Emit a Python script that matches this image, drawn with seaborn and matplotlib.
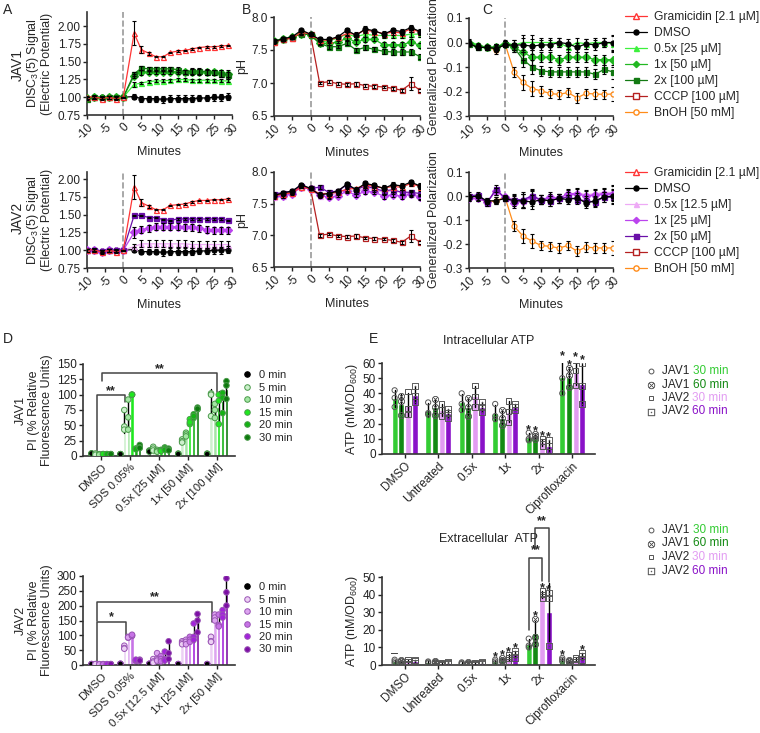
import numpy as np
import pandas as pd
import matplotlib
matplotlib.use('Agg')
import matplotlib.pyplot as plt
from matplotlib.lines import Line2D
import seaborn as sns

sns.set_style('ticks')
plt.rcParams['font.family'] = ['Liberation Sans', 'DejaVu Sans']
plt.rcParams['mathtext.fontset'] = 'custom'
plt.rcParams['mathtext.rm'] = 'Liberation Sans'
plt.rcParams['mathtext.it'] = 'Liberation Sans'
plt.rcParams['font.size'] = 8.5
plt.rcParams['axes.linewidth'] = 1.2
plt.rcParams['axes.edgecolor'] = '#333333'

# ---------------- time course data ----------------
tA = [-10, -8, -6, -4, -2, 0, 3, 5, 7, 9, 11, 13, 15, 17, 19, 21, 23, 25, 27, 29]
tB = [-10, -7.5, -5, -2.5, 0, 2.5, 5, 7.5, 10, 12.5, 15, 17.5, 20, 22.5, 25, 27.5, 30]

# DiSC3(5), JAV1
gram_A1 = [1.00, 1.01, 0.98, 1.00, 0.98, 1.00, 1.90, 1.67, 1.62, 1.57, 1.57, 1.63, 1.65, 1.66, 1.68, 1.70, 1.71, 1.71, 1.72, 1.73]
gram_A1_err = [0.02, 0.02, 0.02, 0.02, 0.02, 0.01, 0.17, 0.05, 0.02, 0.01, 0.01, 0.01, 0.01, 0.01, 0.01, 0.01, 0.01, 0.01, 0.01, 0.01]
dmso_A1 = [0.99, 1.00, 1.00, 1.00, 1.00, 1.00, 1.01, 0.98, 0.98, 0.98, 0.97, 0.98, 0.98, 0.98, 0.98, 0.99, 0.99, 1.00, 1.00, 1.01]
dmso_A1_err = [0.02, 0.02, 0.02, 0.02, 0.02, 0.01, 0.03, 0.04, 0.04, 0.04, 0.05, 0.05, 0.05, 0.05, 0.05, 0.04, 0.04, 0.05, 0.05, 0.05]
lo_A1 = [0.99, 1.00, 1.00, 1.00, 1.00, 1.00, 1.18, 1.20, 1.22, 1.23, 1.23, 1.24, 1.25, 1.25, 1.24, 1.24, 1.24, 1.24, 1.23, 1.23]
lo_A1_err = [0.02, 0.02, 0.02, 0.02, 0.02, 0.01, 0.03, 0.02, 0.02, 0.02, 0.02, 0.02, 0.02, 0.02, 0.02, 0.02, 0.02, 0.02, 0.02, 0.02]
mid_A1 = [0.99, 1.00, 0.99, 1.00, 1.00, 1.00, 1.30, 1.35, 1.36, 1.36, 1.36, 1.36, 1.36, 1.36, 1.36, 1.36, 1.35, 1.35, 1.34, 1.33]
mid_A1_err = [0.02, 0.02, 0.02, 0.02, 0.02, 0.01, 0.03, 0.03, 0.03, 0.03, 0.03, 0.03, 0.03, 0.03, 0.04, 0.04, 0.04, 0.04, 0.05, 0.05]
hi_A1 = [0.98, 1.00, 0.99, 1.00, 1.00, 1.00, 1.33, 1.41, 1.40, 1.40, 1.40, 1.40, 1.39, 1.36, 1.37, 1.37, 1.36, 1.35, 1.33, 1.31]
hi_A1_err = [0.02, 0.02, 0.02, 0.02, 0.02, 0.01, 0.03, 0.03, 0.03, 0.03, 0.03, 0.03, 0.03, 0.03, 0.04, 0.04, 0.04, 0.04, 0.05, 0.05]

# DiSC3(5), JAV2
gram_A2 = [1.00, 1.01, 0.97, 1.00, 0.98, 1.00, 1.89, 1.67, 1.62, 1.57, 1.57, 1.63, 1.64, 1.65, 1.68, 1.70, 1.70, 1.71, 1.71, 1.72]
dmso_A2 = [1.00, 1.00, 0.99, 1.00, 1.00, 1.00, 1.01, 0.98, 0.98, 0.98, 0.97, 0.98, 0.98, 0.98, 0.98, 0.99, 0.99, 1.00, 1.00, 1.01]
lo_A2 = [1.00, 1.00, 0.98, 1.00, 0.99, 1.00, 1.05, 1.09, 1.09, 1.09, 1.09, 1.09, 1.09, 1.09, 1.08, 1.08, 1.08, 1.08, 1.08, 1.08]
lo_A2_err = [0.02, 0.02, 0.02, 0.02, 0.02, 0.01, 0.04, 0.05, 0.05, 0.05, 0.05, 0.05, 0.05, 0.05, 0.05, 0.05, 0.05, 0.05, 0.05, 0.05]
mid_A2 = [1.00, 1.01, 0.98, 1.00, 0.99, 1.00, 1.25, 1.29, 1.31, 1.33, 1.33, 1.33, 1.33, 1.32, 1.32, 1.31, 1.29, 1.28, 1.28, 1.28]
mid_A2_err = [0.02, 0.02, 0.02, 0.02, 0.02, 0.01, 0.08, 0.05, 0.05, 0.05, 0.05, 0.05, 0.05, 0.05, 0.05, 0.05, 0.05, 0.05, 0.05, 0.05]
hi_A2 = [1.00, 1.01, 0.99, 1.00, 1.00, 1.00, 1.49, 1.49, 1.46, 1.46, 1.43, 1.42, 1.44, 1.44, 1.44, 1.44, 1.44, 1.44, 1.44, 1.42]
hi_A2_err = [0.02, 0.02, 0.02, 0.02, 0.02, 0.01, 0.01, 0.01, 0.01, 0.01, 0.01, 0.01, 0.01, 0.01, 0.01, 0.01, 0.01, 0.01, 0.01, 0.01]

# pH, JAV1
dmso_B1 = [7.63, 7.67, 7.70, 7.80, 7.74, 7.66, 7.66, 7.70, 7.80, 7.72, 7.82, 7.79, 7.74, 7.80, 7.78, 7.84, 7.78]
gram_B1 = [7.62, 7.66, 7.68, 7.77, 7.74, 7.65, 7.65, 7.69, 7.75, 7.74, 7.80, 7.78, 7.75, 7.77, 7.76, 7.82, 7.77]
cccp_B1 = [7.62, 7.66, 7.68, 7.76, 7.74, 7.00, 7.02, 6.99, 6.98, 6.99, 6.96, 6.95, 6.94, 6.92, 6.89, 6.99, 6.89]
cccp_B_err = [0.02, 0.02, 0.02, 0.02, 0.02, 0.02, 0.02, 0.02, 0.02, 0.03, 0.02, 0.02, 0.02, 0.02, 0.02, 0.10, 0.02]
lo_B1 = [7.64, 7.66, 7.69, 7.76, 7.74, 7.62, 7.64, 7.68, 7.74, 7.70, 7.74, 7.72, 7.72, 7.72, 7.72, 7.74, 7.74]
mid_B1 = [7.63, 7.67, 7.69, 7.75, 7.73, 7.60, 7.60, 7.62, 7.68, 7.62, 7.66, 7.66, 7.58, 7.58, 7.58, 7.62, 7.57]
hi_B1 = [7.63, 7.66, 7.69, 7.75, 7.73, 7.60, 7.55, 7.55, 7.60, 7.50, 7.54, 7.51, 7.48, 7.47, 7.47, 7.47, 7.40]
ph_err = [0.03, 0.03, 0.02, 0.02, 0.02, 0.03, 0.03, 0.02, 0.03, 0.03, 0.04, 0.03, 0.04, 0.04, 0.04, 0.04, 0.04]

# pH, JAV2
dmso_B2 = [7.63, 7.67, 7.70, 7.80, 7.74, 7.64, 7.66, 7.70, 7.81, 7.72, 7.82, 7.79, 7.74, 7.80, 7.78, 7.84, 7.78]
gram_B2 = [7.62, 7.65, 7.67, 7.77, 7.73, 7.66, 7.66, 7.68, 7.73, 7.74, 7.80, 7.77, 7.75, 7.77, 7.76, 7.82, 7.77]
cccp_B2 = [7.62, 7.66, 7.68, 7.76, 7.74, 7.00, 7.02, 6.99, 6.98, 6.99, 6.96, 6.95, 6.94, 6.92, 6.89, 6.99, 6.89]
lo_B2 = [7.60, 7.62, 7.67, 7.76, 7.73, 7.62, 7.62, 7.67, 7.72, 7.68, 7.75, 7.72, 7.68, 7.70, 7.68, 7.66, 7.62]
mid_B2 = [7.62, 7.62, 7.66, 7.76, 7.73, 7.63, 7.60, 7.62, 7.70, 7.63, 7.70, 7.68, 7.62, 7.64, 7.62, 7.65, 7.60]
hi_B2 = [7.66, 7.67, 7.70, 7.78, 7.74, 7.76, 7.68, 7.70, 7.80, 7.72, 7.78, 7.74, 7.70, 7.72, 7.68, 7.68, 7.66]

# Generalized polarization, JAV1
dmso_C1 = [-0.005, -0.02, -0.02, -0.025, -0.01, -0.01, -0.01, -0.015, -0.01, -0.01, 0.0, -0.005, -0.02, -0.005, -0.01, 0.0, 0.0]
lo_C1 = [0.005, -0.01, -0.02, -0.02, 0.0, -0.01, 0.0, 0.0, 0.0, 0.0, 0.0, -0.02, 0.0, -0.005, 0.0, 0.0, -0.005]
mid_C1 = [0.0, -0.015, -0.02, -0.02, -0.005, -0.02, -0.04, -0.06, -0.06, -0.06, -0.07, -0.06, -0.06, -0.06, -0.07, -0.07, -0.07]
hi_C1 = [-0.005, -0.02, -0.02, -0.02, -0.005, -0.02, -0.07, -0.10, -0.115, -0.12, -0.12, -0.12, -0.12, -0.12, -0.13, -0.11, -0.12]
bnoh_C1 = [-0.005, -0.015, -0.02, -0.03, -0.005, -0.12, -0.163, -0.188, -0.197, -0.208, -0.212, -0.204, -0.226, -0.208, -0.21, -0.212, -0.21]
gp_err = [0.01, 0.01, 0.01, 0.015, 0.01, 0.02, 0.03, 0.03, 0.02, 0.02, 0.02, 0.02, 0.02, 0.02, 0.02, 0.02, 0.03]

# Generalized polarization, JAV2
dmso_C2 = [-0.005, 0.0, -0.02, -0.02, -0.01, -0.02, -0.02, -0.025, -0.015, -0.02, -0.01, -0.015, -0.007, -0.03, -0.02, -0.004, -0.001]
lo_C2 = [0.005, -0.005, -0.02, 0.02, -0.01, -0.01, -0.02, -0.01, -0.015, -0.01, -0.01, 0.005, 0.015, 0.005, 0.01, 0.015, 0.015]
mid_C2 = [-0.01, -0.01, -0.025, 0.02, -0.005, -0.03, -0.02, -0.005, -0.015, -0.005, -0.01, 0.01, 0.01, 0.0, 0.005, 0.01, 0.01]
hi_C2 = [0.0, 0.005, -0.03, 0.03, -0.01, -0.015, -0.015, 0.0, -0.015, -0.02, -0.01, -0.005, -0.015, -0.02, -0.025, -0.005, -0.005]
bnoh_C2 = [-0.01, -0.01, -0.025, -0.02, -0.005, -0.125, -0.167, -0.188, -0.206, -0.21, -0.217, -0.206, -0.23, -0.213, -0.216, -0.217, -0.216]

labels1 = ['Gramicidin [2.1 µM]', 'DMSO', '0.5x [25 µM]', '1x [50 µM]', '2x [100 µM]', 'CCCP [100 µM]', 'BnOH [50 mM]']
labels2 = ['Gramicidin [2.1 µM]', 'DMSO', '0.5x [12.5 µM]', '1x [25 µM]', '2x [50 µM]', 'CCCP [100 µM]', 'BnOH [50 mM]']
green3 = ['#3df03d', '#22b822', '#137a13']
purple3 = ['#eeaaf6', '#bb44ee', '#6a10a8']

# ---------------- PI uptake data (replicates) ----------------
pi_times = ['0 min', '5 min', '10 min', '15 min', '20 min', '30 min']
pi_conds1 = ['DMSO', 'SDS 0.05%', '0.5x [25 µM]', '1x [50 µM]', '2x [100 µM]']
pi_conds2 = ['DMSO', 'SDS 0.05%', '0.5x [12.5 µM]', '1x [25 µM]', '2x [50 µM]']
pi_jav1 = {
    '0 min': [[4, 4, 4], [3, 3, 3], [9, 8, 7], [3, 4, 3], [4, 3, 3]],
    '5 min': [[3, 4, 2], [75, 48, 43], [15, 12, 9], [27, 24, 22], [102, 100, 65]],
    '10 min': [[2, 3, 2], [92, 63, 43], [10, 8, 7], [38, 35, 32], [85, 75, 62]],
    '15 min': [[3, 3, 3], [100, 100, 100], [10, 9, 8], [60, 52, 55], [100, 90, 52]],
    '20 min': [[3, 3, 3], [12, 12, 11], [14, 12, 10], [68, 62, 65], [103, 95, 70]],
    '30 min': [[3, 3, 3], [18, 14, 13], [12, 10, 9], [79, 76, 77], [122, 115, 93]],
}
pi_jav2 = {
    '0 min': [[3, 3, 3], [4, 4, 4], [4, 4, 4], [3, 3, 3], [3, 3, 3]],
    '5 min': [[3, 2, 3], [65, 57, 55], [20, 12, 8], [80, 75, 70], [95, 80, 78]],
    '10 min': [[2, 3, 2], [92, 95, 93], [40, 20, 15], [85, 78, 70], [170, 160, 150]],
    '15 min': [[3, 2, 2], [100, 98, 102], [30, 20, 12], [95, 85, 78], [170, 135, 130]],
    '20 min': [[3, 2, 2], [15, 14, 18], [45, 20, 15], [140, 95, 85], [185, 170, 160]],
    '30 min': [[3, 2, 3], [18, 14, 15], [80, 40, 20], [172, 150, 110], [292, 245, 200]],
}
pi_green = ['#000000', '#cdf0cd', '#a3e6a3', '#1ee81e', '#13b313', '#0e7a0e']
pi_purple = ['#000000', '#ecd0f4', '#dda4f0', '#c773e6', '#a322dc', '#7d0fa5']

# ---------------- ATP data (replicates) ----------------
atp_groups = ['DMSO', 'Untreated', '0.5x', '1x', '2x', 'Ciprofloxacin']
atp_series = ['JAV1 30 min', 'JAV1 60 min', 'JAV2 30 min', 'JAV2 60 min']
atp_colors = ['#33cc33', '#138a13', '#e29cf2', '#8a12c8']
atp_markers = ['o', '$\\otimes$', 's', '$\\boxdot$']
atp_in = {
    'JAV1 30 min': [[42, 37, 31], [34, 27, 26], [40, 33, 29], [33, 25, 23], [14, 10, 9], [63, 50, 40]],
    'JAV1 60 min': [[38, 35, 26], [36, 31, 26], [37, 31, 25], [29, 24, 19], [13, 12, 10], [57, 52, 44]],
    'JAV2 30 min': [[41, 30, 26], [33, 29, 25], [45, 38, 31], [35, 28, 21], [10, 8, 5], [62, 55, 45]],
    'JAV2 60 min': [[45, 38, 34], [30, 27, 24], [34, 31, 28], [33, 31, 29], [9, 5, 1], [60, 45, 33]],
}
atp_out = {
    'JAV1 30 min': [[3, 2, 1], [2, 1.5, 1], [1.5, 1, 0.5], [3, 2, 1], [15, 11, 10], [4, 3, 2]],
    'JAV1 60 min': [[3, 2, 1], [2, 1.5, 1], [1.5, 1, 0.5], [4, 3, 2], [26, 16, 12], [3, 2, 1]],
    'JAV2 30 min': [[3, 2, 1], [1.5, 1, 0.5], [1.5, 1, 0.5], [6, 4, 2], [42, 40, 38], [4, 3, 2]],
    'JAV2 60 min': [[3, 2, 1], [1.5, 1, 0.5], [1.5, 1, 0.5], [8, 6, 4], [41, 38, 11], [7, 5, 3]],
}

W, H = 760, 733
fig = plt.figure(figsize=(W / 100, H / 100), dpi=100)


def add_ax(l, t, r, b):
    return fig.add_axes([l / W, 1 - b / H, (r - l) / W, (b - t) / H])


def style_ax(ax):
    sns.despine(ax=ax)
    ax.tick_params(length=3, width=1, pad=1.5, labelsize=8.5, colors='#222222')


def draw(ax, t, y, err, color, marker, mfc, lw=0.9):
    sns.lineplot(x=t, y=y, ax=ax, color=color, marker=marker, markersize=3.6,
                 markerfacecolor=mfc, markeredgecolor=color, markeredgewidth=0.9,
                 linewidth=lw, legend=False, zorder=3)
    if err is not None:
        ax.errorbar(t, y, yerr=err, fmt='none', ecolor='black', elinewidth=0.8,
                    capsize=1.6, capthick=0.8, zorder=4)


def time_ax(ax, ylim, yticks, fmt):
    style_ax(ax)
    ax.axvline(0, color='#999999', ls='--', lw=1.2, zorder=1)
    ax.set_xlim(-10, 30)
    ax.set_xticks([-10, -5, 0, 5, 10, 15, 20, 25, 30])
    ax.set_xticklabels(['-10', '-5', '0', '5', '10', '15', '20', '25', '30'], rotation=45,
                       ha='right', rotation_mode='anchor')
    ax.set_ylim(*ylim)
    ax.set_yticks(yticks)
    ax.set_yticklabels([fmt.format(v) for v in yticks])
    ax.set_xlabel('Minutes', fontsize=9, labelpad=3)


RED = '#ff3535'
CCCP = '#b52020'
BNOH = '#ff8c1a'

for row, (gram_A, dmso_A, treatA, treatA_err, cols, dmso_B, gram_B, cccp_B, treatB,
          dmso_C, treatC, bnoh_C, tops) in enumerate([
        (gram_A1, dmso_A1, [lo_A1, mid_A1, hi_A1], [lo_A1_err, mid_A1_err, hi_A1_err], green3,
         dmso_B1, gram_B1, cccp_B1, [lo_B1, mid_B1, hi_B1], dmso_C1, [lo_C1, mid_C1, hi_C1], bnoh_C1,
         (12, 17, 18, 115, 116, 116, 2.2)),
        (gram_A2, dmso_A2, [lo_A2, mid_A2, hi_A2], [lo_A2_err, mid_A2_err, hi_A2_err], purple3,
         dmso_B2, gram_B2, cccp_B2, [lo_B2, mid_B2, hi_B2], dmso_C2, [lo_C2, mid_C2, hi_C2], bnoh_C2,
         (172, 172, 172, 268, 267, 268, 2.1))]):
    tA_, tB_, tC_, bA, bB, bC, ymaxA = tops
    axA = add_ax(87, tA_, 232, bA)
    axB = add_ax(274, tB_, 420, bB)
    axC = add_ax(469, tC_, 613, bC)
    mk = ['^', 'D', 's']
    # A
    draw(axA, tA, dmso_A, dmso_A1_err, 'black', 'o', 'black')
    for i in range(3):
        draw(axA, tA, treatA[i], treatA_err[i], cols[i], mk[i], cols[i])
    draw(axA, tA, gram_A, gram_A1_err, RED, '^', 'white')
    time_ax(axA, (0.75, ymaxA), [0.75, 1.0, 1.25, 1.5, 1.75, 2.0], '{:.2f}')
    axA.set_ylabel('DISC$_3$(5) Signal\n(Electric Potential)', fontsize=9, labelpad=3, linespacing=1.1)
    # B
    draw(axB, tB, cccp_B, cccp_B_err, CCCP, 's', 'white')
    for i in range(3):
        draw(axB, tB, treatB[i], ph_err, cols[i], mk[i], cols[i])
    draw(axB, tB, gram_B, ph_err, RED, '^', 'white')
    draw(axB, tB, dmso_B, ph_err, 'black', 'o', 'black')
    time_ax(axB, (6.5, 8.0), [6.5, 7.0, 7.5, 8.0], '{:.1f}')
    axB.set_ylabel('pH', fontsize=9, labelpad=2)
    # C
    draw(axC, tB, bnoh_C, gp_err, BNOH, 'o', 'white')
    for i in range(3):
        draw(axC, tB, treatC[i], gp_err, cols[i], mk[i], cols[i])
    draw(axC, tB, dmso_C, gp_err, 'black', 'o', 'black')
    time_ax(axC, (-0.3, 0.1), [-0.3, -0.2, -0.1, 0.0, 0.1], '{:.1f}')
    axC.set_ylabel('Generalized Polarization', fontsize=9, labelpad=2)

    labs = labels1 if row == 0 else labels2
    handles = [Line2D([], [], color=RED, marker='^', mfc='white', ms=4, lw=0.9),
               Line2D([], [], color='black', marker='o', mfc='black', ms=3.6, lw=0.9),
               Line2D([], [], color=cols[0], marker='^', mfc=cols[0], ms=3.6, lw=0.9),
               Line2D([], [], color=cols[1], marker='D', mfc=cols[1], ms=3.2, lw=0.9),
               Line2D([], [], color=cols[2], marker='s', mfc=cols[2], ms=3.6, lw=0.9),
               Line2D([], [], color=CCCP, marker='s', mfc='white', ms=3.8, lw=0.9),
               Line2D([], [], color=BNOH, marker='o', mfc='white', ms=3.8, lw=0.9)]
    fig.legend(handles, labs, loc='upper left',
               bbox_to_anchor=(620 / W, 1 - (6 if row == 0 else 162) / H),
               frameon=False, fontsize=8.7, handlelength=1.8, labelspacing=0.34,
               handletextpad=0.6, borderaxespad=0)

fig.text(18 / W, 1 - 65 / H, 'JAV1', rotation=90, ha='center', va='center', fontsize=10)
fig.text(18 / W, 1 - 218 / H, 'JAV2', rotation=90, ha='center', va='center', fontsize=10)
for lbl, x, y in [('A', 3, 3), ('B', 242, 3), ('C', 482, 3), ('D', 3, 332), ('E', 369, 332)]:
    fig.text(x / W, 1 - y / H, lbl, ha='left', va='top', fontsize=10)


# ---------------- D: PI uptake ----------------
def pi_panel(ax, reps, conds, pal, edge, ylim, ystep, ylabel):
    rows = []
    for tm in pi_times:
        for c, vals in zip(conds, reps[tm]):
            for v in vals:
                rows.append({'cond': c, 'time': tm, 'val': v})
    df = pd.DataFrame(rows)
    sns.barplot(data=df, x='cond', y='val', hue='time', order=conds, hue_order=pi_times,
                palette=pal, saturation=1, errorbar='sd', width=0.8, gap=0.15,
                err_kws={'color': 'black', 'linewidth': 1.0}, ax=ax, legend=False)
    sns.stripplot(data=df, x='cond', y='val', hue='time', order=conds, hue_order=pi_times,
                  palette=pal, dodge=True, jitter=False, size=4, linewidth=0.7,
                  edgecolor=edge, ax=ax, legend=False)
    style_ax(ax)
    ax.set_ylim(*ylim)
    ax.set_yticks(np.arange(0, ylim[1] + 1, ystep))
    ax.set_xlabel('')
    ax.set_ylabel(ylabel, fontsize=9, labelpad=3, linespacing=1.1)
    ax.set_xticks(range(len(conds)))
    ax.set_xticklabels(conds, rotation=45, ha='right', rotation_mode='anchor', fontsize=8.2)
    handles = [Line2D([], [], ls='', marker='o', ms=4, mfc=c, mec=edge if i else 'black', mew=0.7)
               for i, c in enumerate(pal)]
    ax.legend(handles, pi_times, loc='upper left', bbox_to_anchor=(1.02, 0.98), frameon=False,
              fontsize=8, handlelength=0.8, handletextpad=0.7, labelspacing=0.22, borderaxespad=0)


def bracket(ax, x1, x2, y, y1, y2, txt, ty):
    ax.plot([x1, x1, x2, x2], [y1, y, y, y2], color='#444444', lw=1.1, clip_on=False)
    ax.text((x1 + x2) / 2, ty, txt, ha='center', va='center', fontsize=9, fontweight='bold')


axD1 = add_ax(83, 364, 235, 456)
pi_panel(axD1, pi_jav1, pi_conds1, pi_green, '#4a9a4a', (0, 150), 25,
         'JAV1\nPI (% Relative\nFluorescence Units)')
bracket(axD1, -0.14, 0.82, 100, 8, 88, '**', 106)
bracket(axD1, 0.03, 4.0, 135, 122, 105, '**', 141)

axD2 = add_ax(83, 576, 235, 665)
pi_panel(axD2, pi_jav2, pi_conds2, pi_purple, '#9a55b5', (0, 300), 50,
         'JAV2\nPI (% Relative\nFluorescence Units)')
bracket(axD2, -0.14, 0.85, 144, 10, 95, '*', 160)
bracket(axD2, -0.14, 3.84, 211, 150, 144, '**', 228)


# ---------------- E: ATP ----------------
def atp_panel(ax, reps, ylim, title, stars, tpad):
    rows = []
    for s in atp_series:
        for g, vals in zip(atp_groups, reps[s]):
            for v in vals:
                rows.append({'group': g, 'series': s, 'val': v})
    df = pd.DataFrame(rows)
    sns.barplot(data=df, x='group', y='val', hue='series', order=atp_groups, hue_order=atp_series,
                palette=atp_colors, saturation=1, errorbar='sd', width=0.8, gap=0.12,
                err_kws={'color': 'black', 'linewidth': 1.0}, ax=ax, legend=False)
    for j, s in enumerate(atp_series):
        off = -0.4 + 0.2 * (j + 0.5)
        for gi, vals in enumerate(reps[s]):
            xs = [gi + off] * len(vals)
            if atp_markers[j] in ('o', 's'):
                ax.scatter(xs, vals, s=14, marker=atp_markers[j], facecolor='none',
                           edgecolor='#555555', linewidth=0.7, zorder=5)
            else:
                ax.scatter(xs, vals, s=22, marker=atp_markers[j], color='#555555',
                           linewidth=0.3, zorder=5)
            if (gi, j) in stars:
                ax.text(gi + off, max(vals) + ylim[1] * 0.03, '*', ha='center', va='center',
                        fontsize=9, fontweight='bold', clip_on=False)
    style_ax(ax)
    ax.set_ylim(*ylim)
    ax.set_yticks(np.arange(0, ylim[1] + 1, 10))
    ax.set_xlabel('')
    ax.set_ylabel('ATP (nM/OD$_{600}$)', fontsize=9, labelpad=2)
    ax.set_xticks(range(len(atp_groups)))
    ax.set_xticklabels(atp_groups, rotation=45, ha='right', rotation_mode='anchor', fontsize=8.5)
    ax.set_title(title, fontsize=9, pad=tpad)


def atp_legend(x, y0):
    for j, s in enumerate(atp_series):
        y = 1 - (y0 + 13.5 * j) / H
        if atp_markers[j] in ('o', 's'):
            fig.lines.append(Line2D([x / W], [y], transform=fig.transFigure, ls='',
                                    marker=atp_markers[j], ms=3.5, mfc='none', mec='#555555', mew=0.7))
        else:
            fig.lines.append(Line2D([x / W], [y], transform=fig.transFigure, ls='',
                                    marker=atp_markers[j], ms=5, color='#555555', mew=0.3))
        name, tm = s.split(' ', 1)
        t1 = fig.text((x + 11) / W, y, name + ' ', ha='left', va='center', fontsize=8.5)
        plt.annotate(tm, xy=(1, 0.5), xycoords=t1, ha='left', va='center',
                     fontsize=8.5, color=atp_colors[j], annotation_clip=False)


axE1 = add_ax(382, 363, 595, 454)
atp_panel(axE1, atp_in, (0, 60), 'Intracellular ATP',
          [(4, 0), (4, 1), (4, 2), (4, 3), (5, 0), (5, 1), (5, 2), (5, 3)], 14)
atp_legend(651, 371)

axE2 = add_ax(382, 577, 595, 665)
atp_panel(axE2, atp_out, (0, 50), 'Extracellular  ATP',
          [(3, 0), (3, 1), (3, 2), (3, 3), (4, 1), (4, 2), (4, 3), (5, 0), (5, 3)], 25)
x_j1_30 = 4 - 0.4 + 0.1
x_j1_60 = 4 - 0.4 + 0.3
x_j2_30 = 4 - 0.4 + 0.5
x_j2_60 = 4 - 0.4 + 0.7
bracket(axE2, x_j1_30, x_j2_30, 61, 20, 48, '**', 65)
bracket(axE2, x_j1_60, x_j2_60, 78, 66, 47, '**', 82)
axE2.text(0 - 0.3, 6, '–', ha='center', va='center', fontsize=9)
atp_legend(651, 530)

fig.savefig('out.png', dpi=100)
